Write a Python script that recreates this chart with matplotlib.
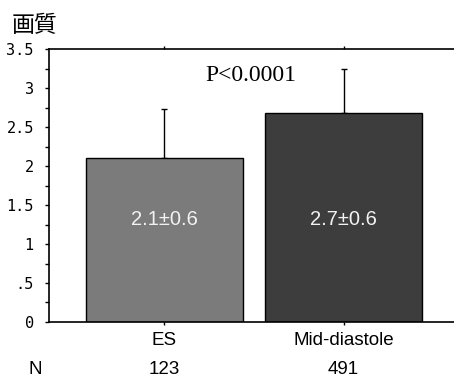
import numpy as np
import matplotlib.pyplot as plt
from matplotlib.ticker import MultipleLocator, FixedLocator
from matplotlib.transforms import blended_transform_factory

# data
groups = ["ES", "Mid-diastole"]
counts = ["123", "491"]
means = [2.11, 2.68]
sds = [0.62, 0.57]
bar_colors = ["#7b7b7b", "#3d3d3d"]
ytick_vals = [0, 0.5, 1, 1.5, 2, 2.5, 3, 3.5]
ytick_text = ["0", ".5", "1", "1.5", "2", "2.5", "3", "3.5"]
p_text = "P<0.0001"
title = "画質"

fig = plt.figure(figsize=(4.54, 3.77), dpi=100)
ax = fig.add_axes([0.108, 0.146, 0.892, 0.723])

x = np.arange(len(groups))
ax.bar(x, means, width=0.875, color=bar_colors, edgecolor="black", linewidth=1.0, zorder=2)
# only the upper half of the error bar is drawn
ax.errorbar(x, means, yerr=[np.zeros(len(sds)), sds], fmt="none", ecolor="black",
            elinewidth=1.0, capsize=2.5, capthick=1.0, zorder=1)

for xi, m, s in zip(x, means, sds):
    ax.text(xi, 1.31, f"{m:.1f}±{s:.1f}", ha="center", va="center", color="#f2f2f2",
            fontsize=14.5, family="Liberation Sans")

ax.text(0.483, 3.16, p_text, ha="center", va="center", fontsize=17, family="Liberation Serif")

ax.set_xlim(-0.643, 1.616)
ax.set_ylim(0, 3.5)

ax.spines["right"].set_visible(False)
for side in ["left", "top", "bottom"]:
    ax.spines[side].set_linewidth(1.2)

ax.yaxis.set_major_locator(FixedLocator(ytick_vals))
ax.set_yticklabels(ytick_text, family="DejaVu Sans Mono", fontsize=11)
ax.yaxis.set_minor_locator(MultipleLocator(0.25))
ax.tick_params(axis="y", which="both", direction="out", length=3, width=1, pad=8)

ax.set_xticks(x)
ax.set_xticklabels(groups, family="Liberation Sans", fontsize=13.5)
ax.tick_params(axis="x", which="both", direction="out", length=2.5, width=1, pad=5,
               top=True, labeltop=False)

# N row under the category labels
trans = blended_transform_factory(ax.transData, fig.transFigure)
fig.text(0.062, 1 - 370 / 377, "N", ha="left", va="center", fontsize=13.5, family="Liberation Sans")
for xi, n in zip(x, counts):
    ax.text(xi, 1 - 370 / 377, n, transform=trans, ha="center", va="center",
            fontsize=13.5, family="Liberation Sans")

fig.text(0.026, 1 - 25 / 377, title, ha="left", va="center", fontsize=16.5,
         family=["Noto Sans CJK JP", "DejaVu Sans"])

fig.savefig("out.png", dpi=100)
